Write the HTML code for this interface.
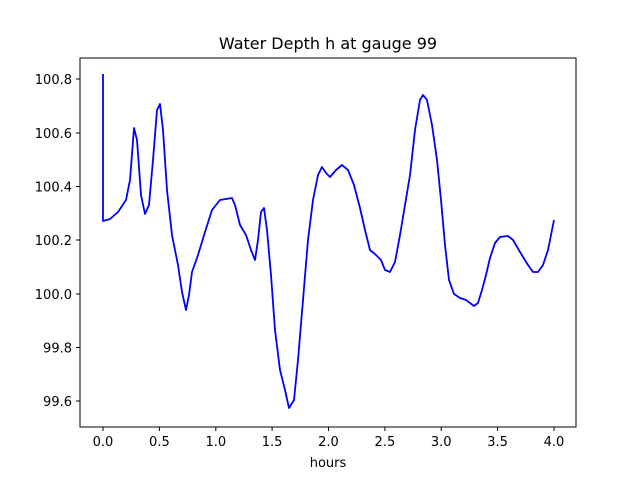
<!DOCTYPE html>
<html><head><meta charset="utf-8"><style>body{margin:0;background:#fff}svg{display:block}</style></head><body>
<svg width="640" height="480" xmlns="http://www.w3.org/2000/svg" font-family="DejaVu Sans, Liberation Sans, sans-serif">
<rect width="640" height="480" fill="#fff"/>
<text x="328" y="49" font-size="16" text-anchor="middle" fill="#000">Water Depth h at gauge 99</text>
<polyline fill="none" stroke="#0000ff" stroke-width="1.8" stroke-linejoin="round" points="103,74 103,221 110,219 118,212 126,200 130,180 134,128 137,140 141,195 145,214 149,205 153,160 157,110 160,104 163,130 167,190 172,235 178,265 182,292 186,310 189,295 192,272 198,255 205,232 212,210 220,200 232,198 235,205 240,225 246,235 251,250 255,260 258,240 261,212 264,208 267,230 271,275 275,330 280,370 285,390 289,408 294,400 298,360 303,300 308,240 313,200 318,175 322,167 326,173 330,177 336,170 342,165 348,170 354,185 360,208 365,230 370,250 376,255 381,260 385,270 390,272 395,262 400,235 405,205 410,175 415,130 420,100 423,95 427,100 432,125 437,160 441,200 445,245 449,280 454,294 460,298 466,300 470,303 474,306 478,303 482,290 486,275 490,258 495,243 500,237 508,236 513,240 520,252 528,265 533,272 538,272 543,265 548,250 554,220"/>
<rect x="80" y="58" width="496" height="369" fill="none" stroke="#000" stroke-width="1"/>
<g stroke="#000" stroke-width="1">
<line x1="103" y1="427" x2="103" y2="431"/><line x1="159.4" y1="427" x2="159.4" y2="431"/><line x1="215.8" y1="427" x2="215.8" y2="431"/><line x1="272.1" y1="427" x2="272.1" y2="431"/><line x1="328.5" y1="427" x2="328.5" y2="431"/><line x1="384.9" y1="427" x2="384.9" y2="431"/><line x1="441.2" y1="427" x2="441.2" y2="431"/><line x1="497.6" y1="427" x2="497.6" y2="431"/><line x1="554" y1="427" x2="554" y2="431"/>
<line x1="76" y1="79" x2="80" y2="79"/><line x1="76" y1="133" x2="80" y2="133"/><line x1="76" y1="186.5" x2="80" y2="186.5"/><line x1="76" y1="240" x2="80" y2="240"/><line x1="76" y1="294" x2="80" y2="294"/><line x1="76" y1="347.5" x2="80" y2="347.5"/><line x1="76" y1="401" x2="80" y2="401"/>
</g>
<g font-size="13" text-anchor="middle" fill="#000">
<text x="103" y="446">0.0</text><text x="159.4" y="446">0.5</text><text x="215.8" y="446">1.0</text><text x="272.1" y="446">1.5</text><text x="328.5" y="446">2.0</text><text x="384.9" y="446">2.5</text><text x="441.2" y="446">3.0</text><text x="497.6" y="446">3.5</text><text x="554" y="446">4.0</text>
<text x="328" y="467">hours</text>
</g>
<g font-size="13" text-anchor="end" fill="#000">
<text x="72" y="84">100.8</text><text x="72" y="138">100.6</text><text x="72" y="191.5">100.4</text><text x="72" y="245">100.2</text><text x="72" y="299">100.0</text><text x="72" y="352.5">99.8</text><text x="72" y="406">99.6</text>
</g>
</svg>
</body></html>
